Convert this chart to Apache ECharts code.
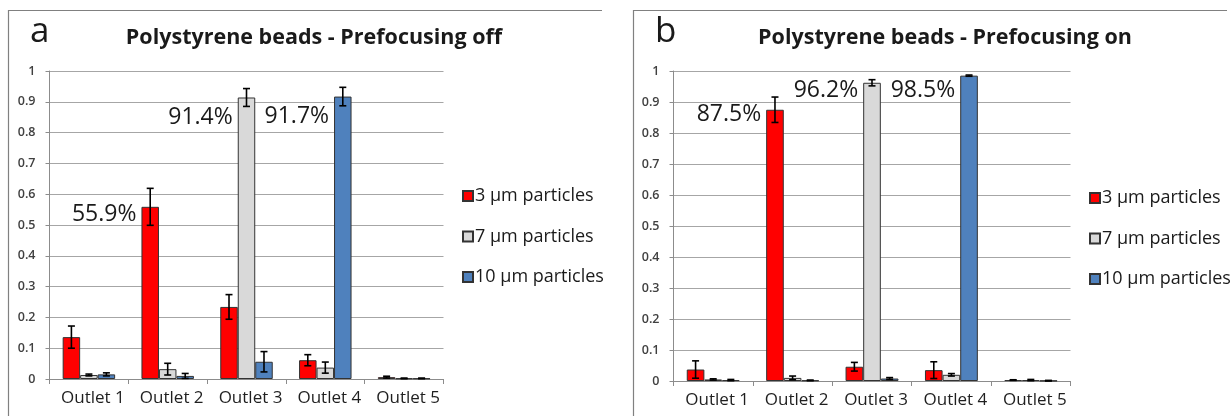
<!DOCTYPE html>
<html><head><meta charset="utf-8">
<script src="https://cdn.jsdelivr.net/npm/echarts@6/dist/echarts.min.js"></script>
<style>html,body{margin:0;padding:0;background:#fff}#c{width:1231px;height:416px}</style>
</head><body><div id="c"></div><script>
// ---- data ----
const categories = ['Outlet 1', 'Outlet 2', 'Outlet 3', 'Outlet 4', 'Outlet 5'];
const seriesNames = ['3 µm particles', '7 µm particles', '10 µm particles'];
const panelTitles = ['Polystyrene beads - Prefocusing off', 'Polystyrene beads - Prefocusing on'];
const panelLetters = ['a', 'b'];
const yTicks = [0, 0.1, 0.2, 0.3, 0.4, 0.5, 0.6, 0.7, 0.8, 0.9, 1];

// Prefocusing off
const offRed = [0.136, 0.559, 0.234, 0.061, 0.006];
const offGray = [0.013, 0.032, 0.914, 0.037, 0.002];
const offBlue = [0.015, 0.010, 0.056, 0.917, 0.002];
const offRedErr = [0.036, 0.060, 0.040, 0.018, 0.003];
const offGrayErr = [0.003, 0.019, 0.029, 0.018, 0.001];
const offBlueErr = [0.005, 0.008, 0.033, 0.030, 0.001];
const offRedLabels = ['', '55.9%', '', '', ''];
const offGrayLabels = ['', '', '91.4%', '', ''];
const offBlueLabels = ['', '', '', '91.7%', ''];

// Prefocusing on
const onRed = [0.037, 0.875, 0.046, 0.035, 0.003];
const onGray = [0.005, 0.010, 0.962, 0.020, 0.003];
const onBlue = [0.003, 0.002, 0.008, 0.985, 0.001];
const onRedErr = [0.028, 0.041, 0.014, 0.027, 0.001];
const onGrayErr = [0.002, 0.006, 0.010, 0.004, 0.002];
const onBlueErr = [0.002, 0.001, 0.003, 0.002, 0.001];
const onRedLabels = ['', '87.5%', '', '', ''];
const onGrayLabels = ['', '', '96.2%', '', ''];
const onBlueLabels = ['', '', '', '98.5%', ''];

// ---- styling ----
const FONT = '"Open Sans", Lato, sans-serif';
const COLORS = ['#ff0000', '#d9d9d9', '#4f81bd'];
const BAR_FRAC = 0.222;
const GRID_COLOR = '#a6a6a6';
const AXIS_COLOR = '#8c8c8c';

const chart = echarts.init(document.getElementById('c'), null, {renderer: 'canvas'});

const grids = [
  {left: 49.5, right: 787.5, top: 71, bottom: 37},
  {left: 673.5, right: 160.5, top: 71, bottom: 35}
];

function xAxis(i) {
  return {
    type: 'category', gridIndex: i, data: categories,
    axisLine: {lineStyle: {color: AXIS_COLOR}},
    axisTick: {show: true, alignWithLabel: false, interval: 0, length: 5, lineStyle: {color: AXIS_COLOR}},
    axisLabel: {fontFamily: FONT, fontSize: 17, color: '#1f1f1f', margin: 11, interval: 0,
      padding: [0, 0, 0, 8]},
    splitLine: {show: false}
  };
}
function yAxis(i) {
  return {
    type: 'value', gridIndex: i, min: 0, max: 1, interval: 0.1,
    axisLine: {show: true, lineStyle: {color: AXIS_COLOR}},
    axisTick: {show: true, length: 4, lineStyle: {color: AXIS_COLOR}},
    axisLabel: {fontFamily: FONT, fontSize: 12.5, fontWeight: 600, color: '#404040', margin: 14,
      formatter: v => String(Math.round(v * 10) / 10)},
    splitLine: {show: true, lineStyle: {color: GRID_COLOR, width: 1}}
  };
}

function barSeries(name, color, values, labels, labelDy, panel) {
  return {
    type: 'bar', name, xAxisIndex: panel, yAxisIndex: panel,
    barWidth: (BAR_FRAC * 100) + '%', barGap: '0%',
    itemStyle: {color, borderColor: '#333333', borderWidth: 1},
    z: 2,
    data: values.map((v, i) => labels[i] ? {
      value: v,
      label: {show: true, formatter: labels[i], position: [-5, labelDy], align: 'right',
        verticalAlign: 'middle', fontFamily: FONT, fontSize: 23, color: '#1a1a1a'}
    } : v)
  };
}

function errSeries(name, idx, values, errs, panel) {
  return {
    type: 'custom', name, xAxisIndex: panel, yAxisIndex: panel, z: 5,
    encode: {x: 0, y: 1},
    silent: true,
    data: values.map((v, i) => [i, v, errs[i]]),
    renderItem: function (params, api) {
      const x = api.value(0), v = api.value(1), e = api.value(2);
      const band = api.size([1, 0])[0];
      const bw = band * BAR_FRAC;
      const cx = api.coord([x, v])[0] + (idx - 1) * bw;
      const top = api.coord([x, v + e])[1];
      const bot = api.coord([x, Math.max(v - e, 0)])[1];
      const cap = 3.5;
      const st = {stroke: '#000', lineWidth: 1.6};
      return {type: 'group', children: [
        {type: 'line', shape: {x1: cx, y1: top, x2: cx, y2: bot}, style: st},
        {type: 'line', shape: {x1: cx - cap, y1: top, x2: cx + cap, y2: top}, style: st},
        {type: 'line', shape: {x1: cx - cap, y1: bot, x2: cx + cap, y2: bot}, style: st}
      ]};
    }
  };
}

const series = [
  barSeries(seriesNames[0], COLORS[0], offRed, offRedLabels, 8, 0),
  barSeries(seriesNames[1], COLORS[1], offGray, offGrayLabels, 20, 0),
  barSeries(seriesNames[2], COLORS[2], offBlue, offBlueLabels, 20, 0),
  barSeries(seriesNames[0], COLORS[0], onRed, onRedLabels, 5, 1),
  barSeries(seriesNames[1], COLORS[1], onGray, onGrayLabels, 8, 1),
  barSeries(seriesNames[2], COLORS[2], onBlue, onBlueLabels, 15, 1),
  errSeries(seriesNames[0], 0, offRed, offRedErr, 0),
  errSeries(seriesNames[1], 1, offGray, offGrayErr, 0),
  errSeries(seriesNames[2], 2, offBlue, offBlueErr, 0),
  errSeries(seriesNames[0], 0, onRed, onRedErr, 1),
  errSeries(seriesNames[1], 1, onGray, onGrayErr, 1),
  errSeries(seriesNames[2], 2, onBlue, onBlueErr, 1)
];

function legend(left, top) {
  return {
    orient: 'vertical', left, top, padding: 0, data: seriesNames, icon: 'rect',
    itemWidth: 10, itemHeight: 10, itemGap: 22.5, selectedMode: false,
    textStyle: {fontFamily: FONT, fontSize: 18, color: '#1a1a1a', lineHeight: 18, padding: [0, 0, 0, -3]}
  };
}

const titleStyle = {fontFamily: FONT, fontSize: 21.5, fontWeight: 'bold', color: '#1a1a1a'};
const letterStyle = {fontFamily: FONT, fontSize: 35, fontWeight: 'normal', color: '#1a1a1a'};

const option = {
  animation: false,
  backgroundColor: '#ffffff',
  title: [
    {text: panelTitles[0], left: 314, top: 27, padding: 0, textAlign: 'center', textStyle: titleStyle},
    {text: panelTitles[1], left: 945, top: 27, padding: 0, textAlign: 'center', textStyle: titleStyle},
    {text: panelLetters[0], left: 30, top: 15, padding: 0, textStyle: letterStyle},
    {text: panelLetters[1], left: 655, top: 15, padding: 0, textStyle: letterStyle}
  ],
  legend: [legend(462, 187), legend(1089, 189)],
  grid: grids.map(g => Object.assign({outerBoundsMode: 'none', containLabel: false}, g)),
  xAxis: [xAxis(0), xAxis(1)],
  yAxis: [yAxis(0), yAxis(1)],
  graphic: [
    {type: 'polyline', shape: {points: [[8.5, 416], [8.5, 10.5], [602, 10.5]]}, style: {stroke: '#808080', lineWidth: 1.2, fill: null}, silent: true},
    {type: 'polyline', shape: {points: [[633.5, 416], [633.5, 10.5], [1227, 10.5]]}, style: {stroke: '#808080', lineWidth: 1.2, fill: null}, silent: true}
  ],
  series
};
chart.setOption(option);
</script></body></html>
